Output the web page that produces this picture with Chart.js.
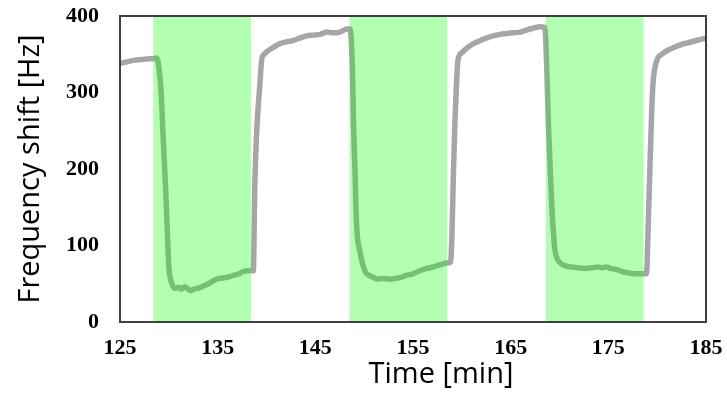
<!DOCTYPE html>
<html>
<head>
<meta charset="utf-8">
<script src="https://cdn.jsdelivr.net/npm/chart.js@4/dist/chart.umd.min.js"></script>
<style>
  body { margin: 0; background: #fff; }
  #wrap { width: 727px; height: 393px; }
</style>
</head>
<body>
<div id="wrap"><canvas id="chart"></canvas></div>
<script>
// time in minutes and frequency shift in Hz
const times = [
  125.0, 125.7, 126.4, 127.2, 128.0, 128.4, 128.75,
  128.92, 129.2, 129.43, 129.68, 129.88, 130.0, 130.3, 130.6,
  131.0, 131.3, 131.6, 131.8, 132.2, 132.6, 133.2, 133.7, 134.2, 134.7, 135.2, 135.8, 136.6, 137.2, 137.6, 138.2, 138.65,
  138.8, 139.0, 139.3, 139.5, 139.75, 140.0, 140.7, 141.4, 142.0, 142.7, 143.4, 144.1, 144.8, 145.5, 146.2, 146.7, 147.2, 147.7, 148.2, 148.55,
  148.8, 148.9, 149.06, 149.2, 149.6, 150.1, 150.5, 151.0, 151.3, 151.95, 152.6, 153.2, 153.7, 154.3, 155.0, 155.7, 156.4, 157.1, 157.8, 158.4, 158.85,
  159.0, 159.15, 159.3, 159.45, 159.6, 160.0, 160.5, 161.2, 161.9, 162.5, 163.2, 163.9, 164.6, 165.3, 166.0, 166.7, 167.3, 168.0, 168.5,
  168.7, 168.85, 169.05, 169.2, 169.5, 169.8, 170.2, 170.7, 171.2, 171.9, 172.6, 173.3, 174.0, 174.4, 174.8, 175.2, 175.7, 176.2, 176.7, 177.2, 177.7, 178.3, 178.9,
  179.1, 179.3, 179.55, 179.8, 180.6, 181.4, 182.3, 183.1, 184.0, 185.0
];
const shift = [
  338, 340, 342, 343, 344, 344, 345,
  338, 303, 238, 172, 107, 72, 51, 44,
  45, 43, 46, 45, 41, 43, 45, 48, 51, 55, 57, 58, 61, 63, 66, 67, 67,
  177, 250, 307, 342, 350, 353, 359, 364, 366, 368, 371, 374, 375, 376, 379, 378, 378, 380, 383, 383,
  329, 264, 199, 133, 90, 66, 61, 58, 56, 57, 56, 57, 58, 61, 63, 67, 70, 72, 75, 77, 78,
  120, 200, 264, 310, 342, 352, 358, 364, 368, 371, 374, 376, 377, 378, 379, 382, 384, 386, 385,
  330, 264, 200, 155, 98, 82, 76, 73, 72, 71, 70, 71, 72, 71, 72, 70, 69, 67, 65, 64, 63, 63, 63,
  133, 220, 307, 334, 351, 357, 362, 365, 368, 371
];

// shaded intervals (min)
const bandStart = [128.4, 148.5, 168.6];
const bandEnd = [138.4, 158.5, 178.6];

const yTicks = [0, 100, 200, 300, 400];
const xTicks = [125, 135, 145, 155, 165, 175, 185];

const points = times.map((t, i) => ({ x: t, y: shift[i] }));

const bandsPlugin = {
  id: 'bands',
  afterDatasetsDraw(chart) {
    const { ctx, chartArea, scales } = chart;
    ctx.save();
    ctx.fillStyle = 'rgba(0, 255, 0, 0.3)';
    bandStart.forEach((s, i) => {
      const x0 = scales.x.getPixelForValue(s);
      const x1 = scales.x.getPixelForValue(bandEnd[i]);
      ctx.fillRect(x0, chartArea.top, x1 - x0, chartArea.bottom - chartArea.top);
    });
    ctx.restore();
  }
};

const frameAndTitlePlugin = {
  id: 'frame',
  afterDraw(chart) {
    const { ctx, chartArea } = chart;
    ctx.save();
    ctx.strokeStyle = '#404040';
    ctx.lineWidth = 2;
    ctx.strokeRect(chartArea.left, chartArea.top, chartArea.right - chartArea.left, chartArea.bottom - chartArea.top);
    // x axis title sits a bit right of centre in the original
    ctx.fillStyle = '#000';
    ctx.font = '29px "Open Sans"';
    ctx.textAlign = 'center';
    ctx.textBaseline = 'alphabetic';
    ctx.fillText('Time [min]', (chartArea.left + chartArea.right) / 2 + 28, chartArea.bottom + 61);
    ctx.restore();
  }
};

new Chart(document.getElementById('chart'), {
  type: 'line',
  data: {
    datasets: [{
      data: points,
      borderColor: '#a6a6a6',
      borderWidth: 5.5,
      pointRadius: 0,
      cubicInterpolationMode: 'monotone',
      fill: false,
      borderJoinStyle: 'round',
      borderCapStyle: 'round'
    }]
  },
  options: {
    responsive: true,
    maintainAspectRatio: false,
    animation: false,
    layout: { padding: { top: 16, right: 21, left: 0, bottom: 0 } },
    plugins: {
      legend: { display: false },
      tooltip: { enabled: false }
    },
    scales: {
      x: {
        type: 'linear',
        min: 125,
        max: 185,
        afterBuildTicks: (axis) => { axis.ticks = xTicks.map(v => ({ value: v })); },
        grid: { display: false, drawTicks: false },
        border: { display: false },
        ticks: {
          color: '#000',
          padding: 13,
          maxRotation: 0,
          font: { family: '"Liberation Serif"', weight: 'bold', size: 22 }
        },
        afterFit: (axis) => {
          axis.height = 71;
          axis.paddingLeft = 0;
          axis.paddingRight = 0;
        }
      },
      y: {
        min: 0,
        max: 400,
        afterBuildTicks: (axis) => { axis.ticks = yTicks.map(v => ({ value: v })); },
        grid: { display: false, drawTicks: false },
        border: { display: false },
        ticks: {
          color: '#000',
          padding: 21,
          font: { family: '"Liberation Serif"', weight: 'bold', size: 22 }
        },
        title: {
          display: true,
          text: 'Frequency shift [Hz]',
          color: '#000',
          padding: { top: 13, bottom: 0 },
          font: { family: '"Open Sans"', size: 29 }
        },
        afterFit: (axis) => {
          axis.width = 120;
          axis.paddingTop = 0;
          axis.paddingBottom = 0;
        }
      }
    }
  },
  plugins: [bandsPlugin, frameAndTitlePlugin]
});
</script>
</body>
</html>
